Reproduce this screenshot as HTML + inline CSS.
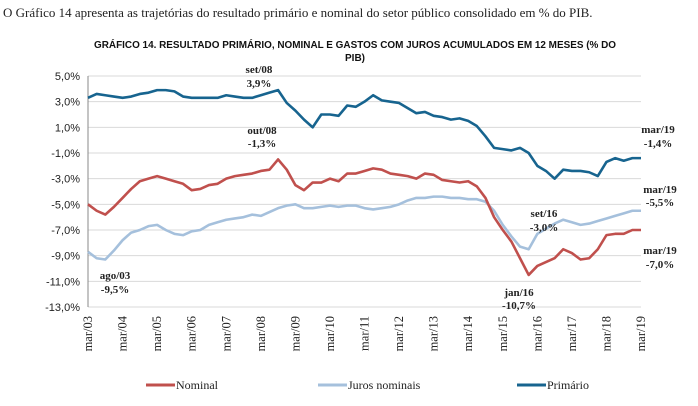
<!DOCTYPE html>
<html><head><meta charset="utf-8"><style>
body{margin:0;background:#fff;width:698px;height:406px;overflow:hidden}
svg{display:block}
.ser{font-family:"Liberation Serif",serif}
</style></head><body>
<svg id="c" width="698" height="406">
<text x="3" y="17" class="ser" font-size="13" fill="#222">O Gráfico 14 apresenta as trajetórias do resultado primário e nominal do setor público consolidado em % do PIB.</text>
<text x="355" y="48" text-anchor="middle" font-family="Liberation Sans, sans-serif" font-size="10" font-weight="bold" fill="#111" textLength="522" lengthAdjust="spacingAndGlyphs">GRÁFICO 14. RESULTADO PRIMÁRIO, NOMINAL E GASTOS COM JUROS ACUMULADOS EM 12 MESES (% DO</text>
<text x="355" y="61" text-anchor="middle" font-family="Liberation Sans, sans-serif" font-size="10" font-weight="bold" fill="#111">PIB)</text>
<g id="grid"></g><g id="axes"></g><g id="lines"></g><g id="ann"></g><g id="legend"></g>
</svg>
<script>
const yTicks=[5,3,1,-1,-3,-5,-7,-9,-11,-13];
const yearLabels=["mar/03","mar/04","mar/05","mar/06","mar/07","mar/08","mar/09","mar/10","mar/11","mar/12","mar/13","mar/14","mar/15","mar/16","mar/17","mar/18","mar/19"];
const primario=[3.3,3.6,3.5,3.4,3.3,3.4,3.6,3.7,3.9,3.9,3.8,3.4,3.3,3.3,3.3,3.3,3.5,3.4,3.3,3.3,3.5,3.7,3.9,2.9,2.3,1.6,1.0,2.0,2.0,1.9,2.7,2.6,3.0,3.5,3.1,3.0,2.9,2.5,2.1,2.2,1.9,1.8,1.6,1.7,1.5,1.1,0.3,-0.6,-0.7,-0.8,-0.6,-1.0,-2.0,-2.4,-3.0,-2.3,-2.4,-2.4,-2.5,-2.8,-1.7,-1.4,-1.6,-1.4,-1.4];
const nominal=[-5.0,-5.5,-5.8,-5.2,-4.5,-3.8,-3.2,-3.0,-2.8,-3.0,-3.2,-3.4,-3.9,-3.8,-3.5,-3.4,-3.0,-2.8,-2.7,-2.6,-2.4,-2.3,-1.5,-2.3,-3.5,-3.9,-3.3,-3.3,-3.0,-3.2,-2.6,-2.6,-2.4,-2.2,-2.3,-2.6,-2.7,-2.8,-3.0,-2.6,-2.7,-3.1,-3.2,-3.3,-3.2,-3.6,-4.5,-6.0,-7.0,-7.9,-9.2,-10.5,-9.8,-9.5,-9.2,-8.5,-8.8,-9.3,-9.2,-8.5,-7.4,-7.3,-7.3,-7.0,-7.0];
const juros=[-8.7,-9.2,-9.3,-8.6,-7.8,-7.2,-7.0,-6.7,-6.6,-7.0,-7.3,-7.4,-7.1,-7.0,-6.6,-6.4,-6.2,-6.1,-6.0,-5.8,-5.9,-5.6,-5.3,-5.1,-5.0,-5.3,-5.3,-5.2,-5.1,-5.2,-5.1,-5.1,-5.3,-5.4,-5.3,-5.2,-5.0,-4.7,-4.5,-4.5,-4.4,-4.4,-4.5,-4.5,-4.6,-4.6,-4.8,-5.5,-6.6,-7.5,-8.3,-8.5,-7.3,-6.9,-6.5,-6.2,-6.4,-6.6,-6.5,-6.3,-6.1,-5.9,-5.7,-5.5,-5.5];
const X0=88,X1=641,Y5=76,Ym13=307;
const xq=i=>X0+(X1-X0)*i/64;
const y=v=>Y5+(5-v)*(Ym13-Y5)/18;
const NS="http://www.w3.org/2000/svg";
function mk(t,a,p){const e=document.createElementNS(NS,t);for(const k in a)e.setAttribute(k,a[k]);p.appendChild(e);return e;}
const grid=document.getElementById('grid'),axes=document.getElementById('axes'),lines=document.getElementById('lines'),ann=document.getElementById('ann'),leg=document.getElementById('legend');
yTicks.forEach(v=>{
  const l=mk('line',{x1:X0,x2:X1,y1:y(v),y2:y(v),stroke:'#d9d9d9','stroke-width':1},grid);
  
  
  const t=mk('text',{x:X0-8,y:y(v)+4,'text-anchor':'end','font-size':11,'font-family':'Liberation Sans, sans-serif',fill:'#222'},axes);
  t.textContent=(v.toFixed(1)+'%').replace('.',',');
  
  
});
const ax=mk('line',{x1:X0,x2:X0,y1:Y5,y2:Ym13,stroke:'#888'},axes);


yearLabels.forEach((s,i)=>{
  const x=xq(i*4);
  const t=mk('text',{transform:`translate(${x+4},316) rotate(-90)`,'text-anchor':'end','font-size':12.5,'font-family':'Liberation Serif, serif',fill:'#222'},axes);
  t.textContent=s;
  
  
});
function series(arr,col,name){
  const p=mk('polyline',{points:arr.map((v,i)=>xq(i)+','+y(v)).join(' '),fill:'none',stroke:col,'stroke-width':2.6,'stroke-linejoin':'round'},lines);
  
  
}
series(juros,'#a5c0dc','juros-line');
series(nominal,'#c0504d','nominal-line');
series(primario,'#17648f','primario-line');
const anns=[["set/08",259,73],["3,9%",259,87],["out/08",262,134],["-1,3%",262,147],["ago/03",115,279],["-9,5%",115,293],["jan/16",519,296],["-10,7%",519,309],["set/16",544,217],["-3,0%",544,231],["mar/19",658,133],["-1,4%",658,147],["mar/19",660,193],["-5,5%",660,206],["mar/19",660,254],["-7,0%",660,268]];
anns.forEach(a=>{
  const t=mk('text',{x:a[1],y:a[2],'text-anchor':'middle','font-size':11,'font-weight':'bold','font-family':'Liberation Serif, serif',fill:'#222'},ann);
  t.textContent=a[0];
  
  
});
[["Nominal",146,'#c0504d'],["Juros nominais",318,'#a5c0dc'],["Primário",517,'#17648f']].forEach(l=>{
  const g=mk('g',{},leg);
  
  
  mk('line',{x1:l[1],x2:l[1]+29,y1:385,y2:385,stroke:l[2],'stroke-width':3},g);
  const t=mk('text',{x:l[1]+30,y:389,'font-size':12,'font-family':'Liberation Serif, serif',fill:'#222'},g);
  t.textContent=l[0];
});
</script>
</body></html>
